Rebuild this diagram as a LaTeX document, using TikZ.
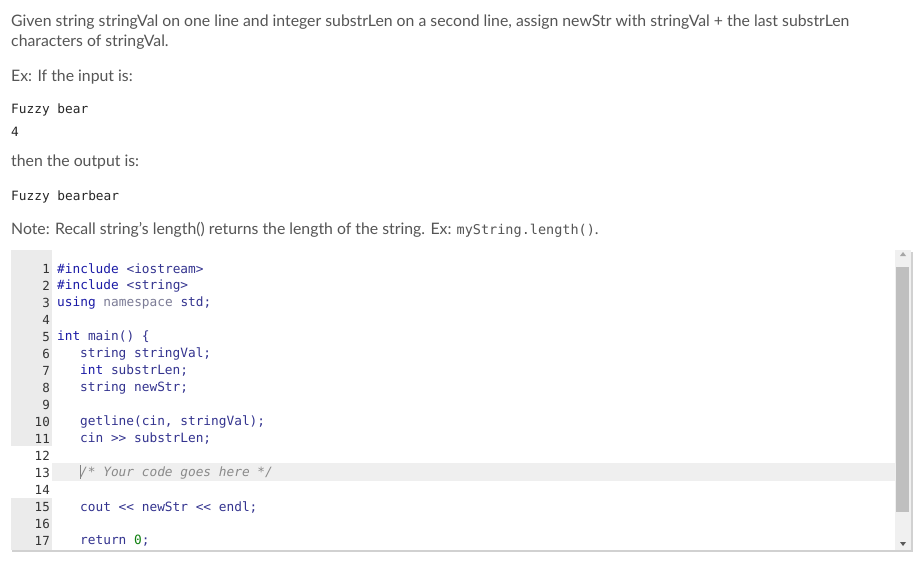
\documentclass[tikz,border=0pt]{standalone}
\usepackage{fontspec}
\setmainfont{Lato}
\newfontfamily\codefont{DejaVu Sans Mono}
\definecolor{txt}{HTML}{555555}
\definecolor{kw}{HTML}{1A1AA6}
\definecolor{ty}{HTML}{33338F}
\definecolor{cm}{HTML}{8A8A8A}
\definecolor{num}{HTML}{108010}
\definecolor{gut}{HTML}{EBEBEB}
\tikzset{
 para/.style={anchor=west,inner sep=0pt,text=txt,font=\fontsize{15.8}{17}\selectfont},
 mono/.style={anchor=west,inner sep=0pt,text=black!85,font=\codefont\fontsize{12.8}{15}\selectfont},
 ln/.style={anchor=east,inner sep=0pt,text=black!80,font=\codefont\fontsize{12.5}{15}\selectfont},
 code/.style={anchor=west,inner sep=0pt,text=ty,font=\codefont\fontsize{12.8}{15}\selectfont},
}
\begin{document}
\begin{tikzpicture}[x=1pt,y=-1pt]
\useasboundingbox[fill=white] (0,0) rectangle (915,568);
\node[para] (p1) at (11,22) {Given string stringVal on one line and integer substrLen on a second line, assign newStr with stringVal + the last substrLen};
\node[para] (p2) at (11,42) {characters of stringVal.};
\node[para] (p3) at (11,77) {Ex: If the input is:};
\node[mono] (m1) at (11,110) {Fuzzy bear};
\node[mono] (m2) at (11,132) {4};
\node[para] (p4) at (11,162) {then the output is:};
\node[mono] (m3) at (11,197) {Fuzzy bearbear};
\node[para] (p5) at (11,230) {Note: Recall string's length() returns the length of the string. Ex: {\codefont\fontsize{13.5}{15}\selectfont myString.length()}.};
% editor
\fill[black!18] (12,252) rectangle (913,552);
\fill[white] (11,250) rectangle (911,550);
\fill[gut] (11,250) rectangle (52,550);
\fill[white] (11,446) rectangle (52,498);
\fill[gut!80] (52,463) rectangle (895,481);
\fill[black!6] (895,250) rectangle (911,550);
\fill[black!25] (896,267) rectangle (909,512);
\fill[black!35] (900,256) -- (906,256) -- (903,252) -- cycle;
\fill[black!65] (900,542) -- (906,542) -- (903,546) -- cycle;
\draw[black!50] (80,465) -- (80,479);
\foreach \i in {1,...,17}{\node[ln] (n\i) at (50,{269+17*(\i-1)}) {\i};}
\node[code] (c1) at (57,269) {\textcolor{kw}{\#include} <iostream>};
\node[code] (c2) at (57,286) {\textcolor{kw}{\#include} <string>};
\node[code] (c3) at (57,303) {\textcolor{kw}{using} \textcolor{cm!90!blue}{namespace} std;};
\node[code] (c5) at (57,337) {\textcolor{kw}{int} main() \{};
\node[code] (c6) at (80,354) {string stringVal;};
\node[code] (c7) at (80,371) {\textcolor{kw}{int} substrLen;};
\node[code] (c8) at (80,388) {string newStr;};
\node[code] (c10) at (80,422) {getline(cin, stringVal);};
\node[code] (c11) at (80,439) {cin >> substrLen;};
\node[code,text=cm] (c13) at (80,473) {\itshape /* Your code goes here */};
\node[code] (c15) at (80,507) {cout << newStr << endl;};
\node[code] (c17) at (80,541) {return \textcolor{num}{0};};
\end{tikzpicture}
\end{document}
